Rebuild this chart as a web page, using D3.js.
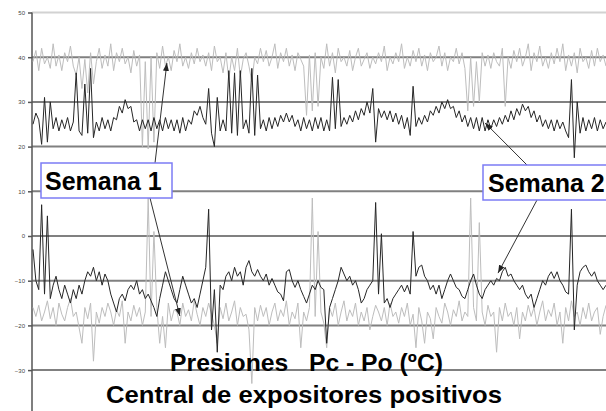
<!DOCTYPE html>
<html>
<head>
<meta charset="utf-8">
<script src="https://cdn.jsdelivr.net/npm/d3@7/dist/d3.min.js"></script>
<style>
body{margin:0;background:#fff;}
svg{display:block;font-family:"Liberation Sans",Arial,sans-serif;}
.grid{stroke:#808080;stroke-width:2;}
.topline{stroke:#d2d2d2;stroke-width:2;}
.axis path,.axis line{stroke:#555;stroke-width:1.5;}
.axis text{font-size:6px;fill:#444;}
.s1{fill:none;stroke:#bdbdbd;stroke-width:1;}
.s2{fill:none;stroke:#262626;stroke-width:1;}
.arrow{stroke:#333;stroke-width:1;}
.box{fill:#fff;stroke:#7c7cf5;stroke-width:1.5;}
.label{font-weight:bold;font-size:25px;fill:#000;}
.title{font-weight:bold;font-size:24px;fill:#000;white-space:pre;}
</style>
</head>
<body>
<div id="chart"></div>
<script>
var w=606;
var h=411;

var yTicks=[50,40,30,20,10,0,-10,-20,-30,-40];

// Semana 1 (gris): lectura superior ~40, inferior ~-17
var semana1Top=[39,41.5,37,42,38.5,40,37.5,43,38,40.5,37,41,39,42.5,38,36,40,33,39.5,32,
41,34,39,42,37.5,40.5,38,43,37,41,39,42,38.5,40,36.5,41.5,38,40.5,20,39,
19.5,40,21,41,37.5,42.5,38,40,37,41.5,39,43,38,40,37.5,41,38.5,42,39,40.5,
38,41,37,42.5,39,40,36.5,41,35,40,37,42,35.5,39.5,41,38,34.5,40,38.5,42,
39,41.5,38,40,43,37.5,41,39,42,38,40.5,37,41,39.5,38,27,40.5,28,41,29,
40,37.5,43,38,41,36.5,42,39,40,38,41.5,37,40,42,38,39.5,41,37.5,40,38.5,
41,39,42.5,37,40,38.5,41,39,43,37.5,40,38,41.5,39,42,38,40.5,37,41,39,
40,42.5,38,41,37,40,39,42,38.5,41,37.5,28,40,29,39,30,41,38,40.5,37.5,
41,39,38,42,29,40,37.5,41.5,39,42,38,40,43,37,41,39,42.5,38,40,37.5,
41,38.5,42,39,43,37,40.5,38,41,36.5,42,39,40,37.5,41.5,38,42,39,40.5,38];

var semana1Bottom=[-16,-18,-15.5,-19,-17,-14.5,-18.5,-16,-20,-15,-17.5,-19,-16,-14,-18,-17,-20.5,-24,-16,-18.5,
-15,-28,-17,-19.5,-16,-18,-15,-17,-20,-16.5,-18,-14.5,-24,-17,-19,-15.5,-18,-16,-20,-17,
8.5,-18,1,-16,-24,-18,-25,-15,-19,-16.5,-17,-20,-15,-18,-16.5,-19,-14.5,-17.5,-20,-16,
-18,-15,-17.5,-20,-24,-16,-18.5,-15,-19,-17,-14.5,-20,-16,-18,-17.5,-21,-33,-16,-19,-15.5,
-18,-16,-20,-17,-15,-19,-16.5,-18,-14.5,-20,-17,-18.5,-15,-25,-17,-19,-16,8.5,-18,1,
-17,-19.5,-25,-16,-18,-15,-20,-17,-14.5,-19,-16.5,-18,-15,-20,-17,-19,-16,-21,-18,-15.5,
-17,-19,-16,-20,-15,-18,-17,-19.5,-16,-18,-15,-20,-17.5,-25,-16,-19,-24,-17,-18.5,-23,
-16,-18,-19.5,-15,-17,-20,-16.5,-18,-14.5,-19,-17,-18,8.5,-16,-19,3,-17,-20,-15.5,-18,
-17,-26,-16,-19,-15,-18,-17,-20,-16,-23,-17,-19,-15.5,-18,-16,-20,-17,-14.5,-19,-16.5,
-18,-15,-20,-17,-24,-16,-19,-14.5,-18,-17,-20,-16,-18.5,-15,-19,-17,-16,-22,-18,-15.5];

// Semana 2 (negro): lectura superior ~25, inferior ~-11
var semana2Top=[25,27.5,26,20.5,31,21,30,24,26.5,23.5,26,24,26.5,23.5,25.5,36.5,23.5,22.5,34,23,
37.5,22,25.5,23.5,26.5,24,26,23.5,26.5,26,29,27.5,30.5,28.5,29,25.5,26,23.5,26,24,
26,23.5,26.5,24,26,23.5,26.5,24,26,23.5,26,23,26.5,23.5,26,25,28,27,29,26.5,
25,33,23,20,31,23.5,26,23.5,37,23,36.5,22.5,37,24,26,23,37.5,22.5,36,24,
26,23.5,26.5,24,26.5,24.5,27,25.5,27.5,25.5,27,24.5,26,23.5,26.5,24,26,23.5,26.5,24,
26.5,23.5,26,23.5,35.5,24,35,24.5,26.5,25,27,25.5,28,26,28.5,27,30,27.5,33,21,
28.5,26.5,28,26,28,25.5,27.5,25,27,24,26.5,22.5,33.5,24.5,26.5,25,27,25.5,28,27,
29,27.5,30,28.5,30.5,28.5,29,26.5,28,25.5,27,24.5,26.5,24,26.5,23.5,26.5,23.5,26,24,
26,24.5,26.5,25,27,25.5,28,26,28.5,27,29.5,28,29,26.5,28,25.5,27,24.5,26,24,
26,23.5,26,24,25.5,23.5,22,35,17.5,30,23,26.5,23.5,26,24,26.5,23.5,26,24,25.5];

var semana2Bottom=[-3,-10,-12,7,-13,4.5,-14,-11,-9,-12,-14,-11,-13,-15,-12,-14,-11,-13,-10,-8,
-9,-7,-10,-8,-11,-8.5,-10,-13,-15,-17,-14,-13,-14.5,-12,-11,-12,-10,-13,-12,-14,
-13,-14.5,-16,-18,-14,-11,-8,-10,-12,-14,-15,-12,-9,-11,-13,-15,-14,-16,-13,-10,
-7,6,-21,-12,-26,-11,-12,-9,-8,-10,-7,-9,-8,-11,-7,-5.5,-8,-9,-7.5,-9,
-10,-8.5,-11,-9.5,-11,-12.5,-13,-14.5,-8,-7.5,-10,-11.5,-10,-12,-13.5,-15,-13,-11,-12,-10,
-11.5,-12,-24,-16,-14,-12,-10,-7,-8.5,-10,-9,-11,-10,-12,-15,-14,-12,-11,-10,7.5,
-13,0.5,-15,-14,-16,-14,-13,-12,-11,-12.5,-11,-13,1,-9,-7,-6.5,-9,-10,-12,-11,
-13,-11,-14,-12,-10,-8.5,-10,-11.5,-12,-13.5,-14,-12,-10,-8.5,-11,-13,-14,-12,-11,-10,
-11,-9.5,-10,-8,-7,-9,-8.5,-10,-11,-12,-11,-13,-14,-13,-16,-14,-12,-10,-11,-9,
-8,-9.5,-8,-10,-11,-12.5,-13,6,-21,-11,-8,-7,-6.5,-8,-9,-8,-10,-11,-12,-11];

var labels=["Semana 1","Semana 2"];
// puntos a los que apuntan las flechas: [indice, valor]
var semana1Marks=[[46.5,38.7],[51,-17.9]];
var semana2Marks=[[157,25.3],[161.5,-8.3]];
var titleLines=["Presiones   Pc - Po (\u00baC)","Central de expositores positivos"];

var xScale,yScale,svgChart;

function setScales(){
  xScale=d3.scaleLinear()
    .domain([0,semana1Top.length-1])
    .range([33,w]);
  yScale=d3.scaleLinear()
    .domain([-40,50])
    .range([414.8,12.5]);
}

function drawGrid(){
  svgChart.selectAll(".gl")
    .data(yTicks)
    .enter().append("line")
    .attr("class",function(d){return d===50?"topline":"grid";})
    .attr("x1",32).attr("x2",w)
    .attr("y1",function(d){return yScale(d);})
    .attr("y2",function(d){return yScale(d);});

  svgChart.append("g")
    .attr("class","axis")
    .attr("transform","translate(32,0)")
    .call(d3.axisLeft(yScale).tickValues(yTicks).tickSize(4).tickSizeOuter(0).tickPadding(3));
  svgChart.select(".axis .domain").attr("d","M0,12.5V"+h);
}

function drawSeries(data,cls){
  var line=d3.line()
    .x(function(d,i){return xScale(i);})
    .y(function(d){return yScale(d);});
  svgChart.append("path")
    .datum(data)
    .attr("class",cls)
    .attr("d",line);
}

function addLabel(text,bx,by,bw,tx,ty,starts,marks){
  for(var i=0;i<marks.length;i++){
    svgChart.append("line")
      .attr("class","arrow")
      .attr("x1",starts[i][0]).attr("y1",starts[i][1])
      .attr("x2",xScale(marks[i][0])).attr("y2",yScale(marks[i][1]))
      .attr("marker-end","url(#head)");
  }
  svgChart.append("rect")
    .attr("class","box")
    .attr("x",bx).attr("y",by)
    .attr("width",bw).attr("height",35);
  svgChart.append("text")
    .attr("class","label")
    .attr("x",tx).attr("y",ty)
    .text(text);
}

function runTool(){
  setScales();
  svgChart=d3.select("#chart").append("svg")
    .attr("width",w).attr("height",h);

  svgChart.append("defs").append("marker")
    .attr("id","head")
    .attr("markerUnits","userSpaceOnUse")
    .attr("markerWidth",8).attr("markerHeight",6)
    .attr("refX",8).attr("refY",3)
    .attr("orient","auto")
    .append("path").attr("d","M0,0L8,3L0,6Z").attr("fill","#222");

  drawGrid();
  drawSeries(semana1Top,"s1");
  drawSeries(semana1Bottom,"s1");
  drawSeries(semana2Top,"s2");
  drawSeries(semana2Bottom,"s2");

  addLabel(labels[0],41,163,131,45,190,[[155,163],[150,198]],semana1Marks);
  addLabel(labels[1],483,165,140,488,192,[[527,165],[537,200]],semana2Marks);

  svgChart.append("text")
    .attr("class","title")
    .attr("x",170).attr("y",371)
    .attr("textLength",273).attr("lengthAdjust","spacingAndGlyphs")
    .text(titleLines[0]);
  svgChart.append("text")
    .attr("class","title")
    .attr("x",106).attr("y",403)
    .attr("textLength",396).attr("lengthAdjust","spacingAndGlyphs")
    .text(titleLines[1]);
}
runTool();
</script>
</body>
</html>
